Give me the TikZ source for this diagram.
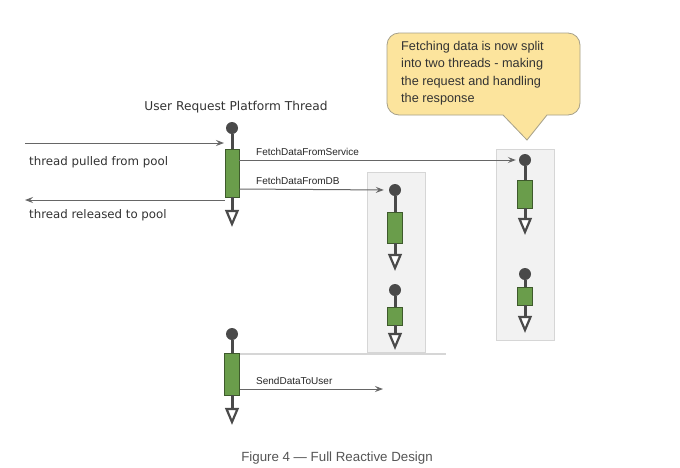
\documentclass[tikz,border=0pt]{standalone}
\usepackage{fontspec}
\setmainfont{Liberation Sans}
\newfontfamily\handfont{DejaVu Sans}
\usetikzlibrary{arrows.meta}
\definecolor{thrgray}{HTML}{4A4A4A}
\definecolor{actgreen}{HTML}{6A9D4B}
\definecolor{actborder}{HTML}{3E5A2C}
\definecolor{boxfill}{HTML}{F2F2F2}
\definecolor{boxline}{HTML}{D6D6D6}
\definecolor{msggray}{HTML}{666666}
\definecolor{calloutfill}{HTML}{FCE49D}
\definecolor{calloutline}{HTML}{A6A08A}
\definecolor{captiongray}{HTML}{555555}
\tikzset{
  dotnode/.style={circle, fill=thrgray, draw=none, minimum size=12pt, inner sep=0pt},
  actbox/.style={rectangle, fill=actgreen, draw=actborder, line width=0.8pt, minimum width=14pt, inner sep=0pt},
  thr/.style={draw=thrgray, line width=3pt},
  lifetipstyle/.style={draw=thrgray, fill=white, line width=2.2pt, line join=miter},
  msg/.style={draw=msggray, line width=1pt, -{Stealth[length=8pt,width=6pt,inset=3pt]}},
  msglabel/.style={font=\fontsize{10}{11}\selectfont, text=black!85, inner sep=0pt, anchor=base west},
  poollabel/.style={font=\handfont\fontsize{11.8}{13}\selectfont, text=black!80, inner sep=0pt, anchor=base west},
  grpbox/.style={fill=boxfill, draw=boxline, line width=0.8pt},
}
\newcommand{\lifetip}[2]{\draw[lifetipstyle] (#1-5.5,#2) -- (#1+5.5,#2) -- (#1,#2+13) -- cycle;}
\begin{document}
\begin{tikzpicture}[x=1pt,y=-1pt]
\useasboundingbox (0,0) rectangle (680,467);
\fill[white] (0,0) rectangle (680,467);

% group boxes
\draw[grpbox] (367,172) rectangle (425,352);
\draw[grpbox] (496,149) rectangle (554,340);
\draw[boxline, line width=1.5pt] (240,354) -- (446,354);

% callout
\draw[fill=calloutfill, draw=calloutline, line width=0.8pt]
  (527,140) -- (503,115) [rounded corners=12pt] -- (387,115) -- (387,33) -- (580,33) -- (580,115) [sharp corners] -- (547,115) -- cycle;
\node[anchor=north west, align=left, inner sep=0pt, font=\fontsize{12.7}{17.5}\selectfont, text=black!80] (callouttext) at (401,41)
  {Fetching data is now split\\into two threads - making\\the request and handling\\the response};

% title
\node[font=\handfont\fontsize{12.2}{13}\selectfont, text=black!80, inner sep=0pt] (title) at (236,107) {User Request Platform Thread};

% thread 1 (user request)
\node[dotnode] (d1) at (232,128) {};
\node[actbox, minimum height=48pt] (a1) at (232,173) {};
\draw[thr] (d1) -- (a1.north);
\draw[thr] (a1.south) -- (232,211);
\lifetip{232}{211}

% thread 2 (DB group)
\node[dotnode] (d2) at (395,190) {};
\node[actbox, minimum height=31pt, minimum width=15pt] (a2) at (395,227.5) {};
\draw[thr] (d2) -- (a2.north);
\draw[thr] (a2.south) -- (395,255);
\lifetip{395}{255}

\node[dotnode] (d3) at (395,290) {};
\node[actbox, minimum height=18pt, minimum width=15pt] (a3) at (395,316) {};
\draw[thr] (d3) -- (a3.north);
\draw[thr] (a3.south) -- (395,334);
\lifetip{395}{334}

% thread 3 (service group)
\node[dotnode] (d4) at (525,160) {};
\node[actbox, minimum height=28pt, minimum width=15pt] (a4) at (525,194) {};
\draw[thr] (d4) -- (a4.north);
\draw[thr] (a4.south) -- (525,219);
\lifetip{525}{219}

\node[dotnode] (d5) at (525,274) {};
\node[actbox, minimum height=18pt, minimum width=15pt] (a5) at (525,296) {};
\draw[thr] (d5) -- (a5.north);
\draw[thr] (a5.south) -- (525,317);
\lifetip{525}{317}

% thread 4 (send to user)
\node[dotnode] (d6) at (232,334) {};
\node[actbox, minimum height=42pt, minimum width=15pt] (a6) at (232,374) {};
\draw[thr] (d6) -- (a6.north);
\draw[thr] (a6.south) -- (232,409);
\lifetip{232}{409}

% pool arrows
\coordinate (poolin) at (25,143);
\coordinate (poolinend) at (224,143);
\coordinate (poolout) at (25,200);
\draw[msg] (poolin) -- (poolinend);
\draw[msg] (a1.south west |- 0,200) -- (poolout);
\node[poollabel] (lpulled) at (29,165) {thread pulled from pool};
\node[poollabel] (lreleased) at (29,218) {thread released to pool};

% messages
\draw[msg, shorten >=3pt] (a1.east |- 0,160) -- (d4.west);
\node[msglabel] (lsvc) at (256,155) {FetchDataFromService};
\draw[msg, shorten >=5pt] (a1.east |- 0,189) -- (d2.west);
\node[msglabel] (ldb) at (256,184) {FetchDataFromDB};
\coordinate (sendend) at (383,389);
\draw[msg] (a6.east |- sendend) -- (sendend);
\node[msglabel] (lsend) at (256,384) {SendDataToUser};

% caption
\node[font=\fontsize{13.3}{15}\selectfont, text=captiongray, inner sep=0pt] (caption) at (337,458) {Figure 4 — Full Reactive Design};
\end{tikzpicture}
\end{document}
